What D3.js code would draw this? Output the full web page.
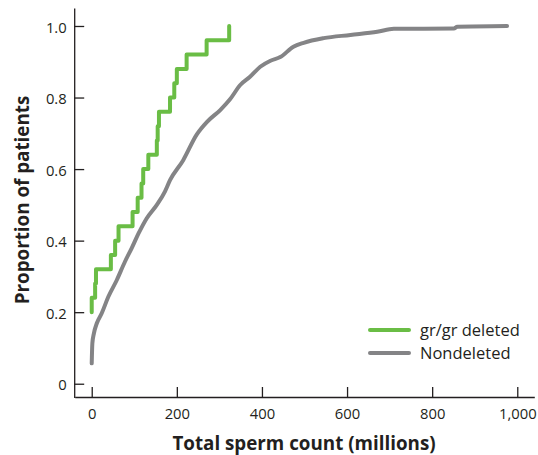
<!DOCTYPE html>
<html>
<head>
<meta charset="utf-8">
<script src="https://cdn.jsdelivr.net/npm/d3@7"></script>
<style>
    html, body { margin: 0; padding: 0; background: #fff; }
    #sperm-count { width: 538px; height: 455px; }
    .chart, .chart text { font-family: "Open Sans", sans-serif; }
    .axis path, .axis line { stroke: #231f20; stroke-width: 1.3px; }
    .axis .tick text { font-size: 14.8px; fill: #231f20; }
    .series path { fill: none; stroke-width: 4px; stroke-linejoin: round; stroke-linecap: round; }
    .gr-gr-deleted path, .legend line.gr-gr-deleted { stroke: #6abd45; }
    .nondeleted path, .legend line.nondeleted { stroke: #848486; }
    .legend line { stroke-width: 4px; stroke-linecap: round; }
    .legend text { font-size: 16.5px; fill: #231f20; }
    .chart text.label { font-weight: 700; font-size: 18.8px; fill: #231f20; }
</style>
</head>
<body>
<div id="sperm-count"></div>
<script>
"use strict";

const seriesNames = ["gr/gr deleted", "Nondeleted"];

const xTicks = [0, 200, 400, 600, 800, 1000];
const xTickLabels = ["0", "200", "400", "600", "800", "1,000"];
const yTicks = [0, 0.2, 0.4, 0.6, 0.8, 1.0];
const yTickLabels = ["0", "0.2", "0.4", "0.6", "0.8", "1.0"];

// gr/gr deleted: empirical distribution, one step per patient
const deletedCounts = [0, 0, 8, 10, 45, 55, 63, 96, 108, 117, 121, 133, 153, 155, 158, 184, 194, 200, 223, 270, 323];
const deletedProportions = [0.20, 0.24, 0.28, 0.32, 0.36, 0.40, 0.44, 0.48, 0.52, 0.56, 0.60, 0.64, 0.68, 0.72, 0.76, 0.80, 0.84, 0.88, 0.92, 0.96, 1.00];

// nondeleted
const nondeletedCounts = [0, 1.5, 5, 12, 23.5, 39, 59, 78, 94, 110, 129, 153, 172, 184, 215, 247, 271, 302, 325, 349, 372, 396, 420, 443, 474, 498, 545, 608, 671, 710, 851, 859, 976];
const nondeletedProportions = [0.057, 0.113, 0.14, 0.169, 0.197, 0.243, 0.29, 0.341, 0.379, 0.42, 0.462, 0.50, 0.537, 0.569, 0.625, 0.697, 0.732, 0.765, 0.795, 0.835, 0.858, 0.886, 0.903, 0.913, 0.942, 0.953, 0.966, 0.975, 0.984, 0.992, 0.993, 0.998, 1.0];

(function () {

    function toKebabCase(value) {
        return value.replace(/[\s\/]+/g, '-')
            .toLowerCase();
    }

    function getSeries() {
        return [
            {
                name: seriesNames[0],
                curve: d3.curveStepAfter,
                data: deletedCounts.map((x, i) => ({ x: x, y: deletedProportions[i] }))
            },
            {
                name: seriesNames[1],
                curve: d3.curveMonotoneX,
                data: nondeletedCounts.map((x, i) => ({ x: x, y: nondeletedProportions[i] }))
            }
        ];
    }

    function drawSeries(selection, xScale, yScale, series) {
        const canvas = selection.append("g")
            .attr("class", "series");

        // grey first so the green steps sit on top
        for (const entry of series.slice().reverse()) {
            const line = d3.line()
                .curve(entry.curve)
                .x(d => xScale(d.x))
                .y(d => yScale(d.y));

            canvas.append("g")
                .attr("class", toKebabCase(entry.name))
                .append("path")
                .attr("d", line(entry.data));
        }

        return canvas;
    }

    function drawLegend(selection, series) {
        const canvas = selection.append("g")
            .attr("class", "legend");

        let translateY = 0;

        for (const entry of series) {
            const dataset = canvas.append("g")
                .attr("class", "dataset")
                .attr("transform", `translate(0,${translateY})`);

            dataset.append("line")
                .attr("class", toKebabCase(entry.name))
                .attr("x2", 39);

            dataset.append("text")
                .attr("x", 50)
                .attr("dy", "0.36em")
                .text(entry.name);

            translateY += 23;
        }

        return canvas;
    }

    function drawChart(selection) {
        const width = 538;
        const height = 455;

        const svg = selection.append("svg")
            .attr("class", "chart")
            .attr("width", width)
            .attr("height", height);

        // domains run a little past the data so the axis lines overhang
        const xScale = d3.scaleLinear()
            .domain([-40, 1040])
            .range([74.7, 534.3]);

        const yScale = d3.scaleLinear()
            .domain([-0.0385, 1.05])
            .range([397.5, 8.1]);

        const xAxis = d3.axisBottom(xScale)
            .tickValues(xTicks)
            .tickFormat((d, i) => xTickLabels[i])
            .tickSizeInner(-10)
            .tickSizeOuter(0);

        const xAxisGroup = svg.append("g")
            .attr("class", "axis x-axis")
            .attr("transform", `translate(0,${yScale(-0.0385) - 0.5})`)
            .call(xAxis);

        xAxisGroup.selectAll(".tick text")
            .attr("y", 22)
            .attr("dy", 0);

        xAxisGroup.append("text")
            .attr("class", "label")
            .attr("x", 304)
            .attr("y", 53)
            .attr("text-anchor", "middle")
            .text("Total sperm count (millions)");

        const yAxis = d3.axisLeft(yScale)
            .tickValues(yTicks)
            .tickFormat((d, i) => yTickLabels[i])
            .tickSizeInner(-10)
            .tickSizeOuter(0);

        const yAxisGroup = svg.append("g")
            .attr("class", "axis y-axis")
            .attr("transform", `translate(${xScale(-40) - 0.5},0)`)
            .call(yAxis);

        yAxisGroup.selectAll(".tick text")
            .attr("x", -7.5)
            .attr("dy", "0.41em");

        const textX = -45;
        const textY = 200;

        yAxisGroup.append("text")
            .attr("class", "label")
            .attr("x", textX)
            .attr("y", textY)
            .attr("text-anchor", "middle")
            .attr("transform", `rotate(-90,${textX},${textY})`)
            .text("Proportion of patients");

        const series = getSeries();

        drawSeries(svg, xScale, yScale, series);

        drawLegend(svg, series)
            .attr("transform", "translate(370,330)");
    }

    d3.select("#sperm-count")
        .call(drawChart);
}());
</script>
</body>
</html>
